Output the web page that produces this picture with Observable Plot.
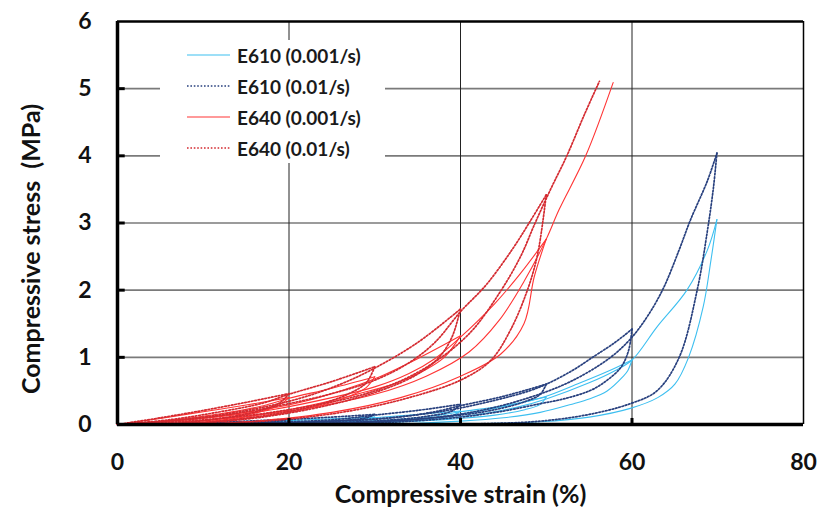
<!DOCTYPE html>
<html><head><meta charset="utf-8">
<script src="https://cdn.jsdelivr.net/npm/d3@7"></script>
<script src="https://cdn.jsdelivr.net/npm/@observablehq/plot@0.6"></script>
<style>
html,body{margin:0;padding:0;background:#fff;}
#wrap{position:relative;width:819px;height:514px;}
#chart svg text{font-family:Lato,"Open Sans",sans-serif;font-weight:700;font-size:23px;fill:#111;}
#chart svg text.title{font-size:25px;}
#legend{position:absolute;left:160px;top:40px;background:#fff;}
#legend text{font-family:Lato,"Open Sans",sans-serif;font-weight:700;font-size:19px;fill:#1a1a1a;}
</style></head><body>
<div id="wrap"><div id="chart"></div><svg id="legend" width="225" height="123"></svg></div>
<script>
// ---- data ----
const strainTicks = [0, 20, 40, 60, 80];
const stressTicks = [0, 1, 2, 3, 4, 5, 6];
const seriesNames = ["E610 (0.001/s)", "E610 (0.01/s)", "E640 (0.001/s)", "E640 (0.01/s)"];
const xTitle = "Compressive strain (%)";
const yTitle = "Compressive stress  (MPa)";

// each entry: one loading or unloading branch, [strain %, stress MPa]
const e610Slow = [
  [[0,0],[10,0.02],[15,0.035],[20,0.06]],
  [[20,0.06],[18,0.03],[13,0.01],[8,0]],
  [[0,0],[10,0.015],[16,0.03],[20,0.058],[25,0.085],[30,0.11]],
  [[30,0.11],[29,0.07],[25,0.035],[18,0.01],[12,0]],
  [[0,0],[12,0.01],[20,0.03],[26,0.06],[30,0.1],[35,0.15],[40,0.2]],
  [[40,0.2],[39,0.13],[36,0.08],[31,0.04],[24,0.01],[18,0]],
  [[0,0],[15,0.01],[25,0.03],[32,0.07],[37,0.13],[40,0.19],[45,0.28],[50,0.41]],
  [[50,0.41],[49.3,0.3],[47.5,0.22],[44,0.14],[40,0.09],[35,0.05],[28,0.02],[20,0]],
  [[0,0],[20,0.02],[30,0.05],[38,0.12],[44,0.24],[48,0.35],[50,0.42],[53.2,0.58],[57,0.78],[60,0.96]],
  [[60,0.96],[59.5,0.8],[59,0.72],[57.1,0.5],[55,0.38],[53.2,0.31],[49.3,0.18],[45,0.1],[40,0.05],[33,0.01],[28,0]],
  [[0,0],[25,0.02],[35,0.06],[42,0.15],[47,0.27],[50,0.38],[55,0.62],[58,0.8],[60,0.96],[62.9,1.45],[66.4,2.0],[68.8,2.6],[69.9,3.05]],
  [[69.9,3.05],[69.2,2.44],[68.3,1.75],[66.6,1.0],[65,0.6],[63,0.4],[59.8,0.24],[55,0.11],[49.3,0.04],[42,0.01],[35,0]]
];
const e610Fast = [
  [[0,0],[10,0.025],[15,0.05],[20,0.08]],
  [[20,0.08],[18,0.04],[13,0.015],[8,0]],
  [[0,0],[10,0.02],[16,0.045],[20,0.075],[25,0.11],[30,0.15]],
  [[30,0.15],[29,0.1],[25,0.05],[18,0.015],[12,0]],
  [[0,0],[12,0.015],[20,0.04],[26,0.08],[30,0.14],[35,0.21],[40,0.3]],
  [[40,0.3],[39,0.2],[36,0.12],[31,0.06],[24,0.02],[17,0]],
  [[0,0],[15,0.015],[25,0.05],[32,0.1],[37,0.19],[40,0.28],[45,0.42],[50,0.6]],
  [[50,0.6],[49.3,0.45],[47.5,0.34],[44,0.22],[40,0.14],[35,0.08],[28,0.03],[20,0]],
  [[0,0],[20,0.03],[30,0.08],[38,0.2],[44,0.36],[48,0.5],[50,0.6],[53,0.8],[55.4,1.0],[58,1.22],[60,1.42]],
  [[60,1.42],[59.6,1.1],[58.7,0.85],[57,0.65],[55.2,0.51],[52,0.38],[49.3,0.31],[45,0.2],[40,0.11],[33,0.04],[25,0]],
  [[0,0],[25,0.02],[35,0.08],[42,0.2],[48,0.4],[53,0.65],[57.5,1.0],[60,1.3],[62,1.65],[63.7,2.04],[65.5,2.6],[66.8,3.04],[68.8,3.63],[69.9,4.04]],
  [[69.9,4.04],[69.5,3.53],[68.8,2.89],[67.6,2.0],[65.5,1.0],[62.9,0.5],[59.8,0.31],[55,0.15],[49.3,0.05],[42,0.01],[35,0]]
];
const e640Slow = [
  [[0,0],[5,0.09],[10,0.19],[15,0.29],[20,0.40]],
  [[20,0.40],[19,0.3],[17,0.2],[13,0.1],[8,0.03],[4,0]],
  [[0,0],[6,0.06],[12,0.16],[17,0.28],[20,0.39],[25,0.54],[30,0.71]],
  [[30,0.71],[29,0.55],[27,0.42],[23,0.26],[17,0.12],[10,0.03],[5,0]],
  [[0,0],[8,0.07],[15,0.18],[21,0.32],[26,0.5],[30,0.68],[35,0.98],[40,1.32]],
  [[40,1.32],[38.1,1.0],[35.7,0.8],[32.6,0.62],[27,0.42],[20,0.22],[13,0.08],[7,0]],
  [[0,0],[10,0.09],[18,0.22],[25,0.4],[30,0.56],[34,0.76],[37,0.98],[40,1.3],[44,1.8],[47,2.25],[50,2.76]],
  [[50,2.76],[48.6,2.2],[47.4,1.5],[44.7,1.05],[40,0.72],[33,0.40],[25,0.18],[17,0.06],[9,0]],
  [[0,0],[10,0.06],[20,0.2],[30,0.45],[36,0.72],[41,1.08],[44.5,1.55],[47.5,2.15],[50,2.76],[51.5,3.2],[54.6,4.0],[57.8,5.09]]
];
const e640Fast = [
  [[0,0],[5,0.1],[10,0.21],[15,0.33],[20,0.46]],
  [[20,0.46],[19,0.33],[17,0.22],[13,0.11],[8,0.03],[4,0]],
  [[0,0],[6,0.07],[12,0.19],[17,0.32],[20,0.45],[25,0.64],[30,0.86]],
  [[30,0.86],[29,0.62],[27,0.46],[23,0.28],[17,0.13],[10,0.03],[5,0]],
  [[0,0],[8,0.08],[15,0.21],[21,0.38],[26,0.6],[30,0.84],[35,1.22],[40,1.72]],
  [[40,1.72],[39,1.3],[37.5,1.0],[35,0.75],[31,0.52],[25,0.3],[18,0.13],[10,0.02],[6,0]],
  [[0,0],[10,0.1],[18,0.26],[25,0.46],[30,0.66],[34,0.92],[37,1.22],[40,1.68],[43,2.08],[46,2.6],[48,3.0],[50,3.42]],
  [[50,3.42],[49,2.54],[47.8,2.0],[45.8,1.4],[43.5,0.95],[40,0.66],[34,0.4],[27,0.2],[19,0.07],[10,0]],
  [[0,0],[10,0.07],[20,0.22],[30,0.5],[36,0.85],[41,1.35],[44.5,1.95],[47,2.5],[48.7,3.0],[50.5,3.5],[52.4,4.0],[54.4,4.6],[56.2,5.11]]
];

// ---- styles ----
const styles = [
  {stroke: "#3dbff0", strokeWidth: 1.1, dash: null},
  {stroke: "#28407e", strokeWidth: 1.7, dash: "1.6,1.8"},
  {stroke: "#ff3434", strokeWidth: 1.1, dash: null},
  {stroke: "#d42a30", strokeWidth: 1.7, dash: "1.6,1.8"}
];
const allSeries = [e610Slow, e610Fast, e640Slow, e640Fast];

const lineMarks = allSeries.map((segs, si) => {
  const rows = [];
  segs.forEach((seg, i) => seg.forEach(([x, y]) => rows.push({x, y, seg: si + "-" + i})));
  const s = styles[si];
  return Plot.line(rows, {x: "x", y: "y", z: "seg", stroke: s.stroke, strokeWidth: s.strokeWidth,
    strokeDasharray: s.dash, curve: "catmull-rom"});
});

const inner = stressTicks.filter(v => v > 0 && v < 6);
const innerX = strainTicks.filter(v => v > 0 && v < 80);

const chart = Plot.plot({
  width: 819, height: 514,
  marginLeft: 117, marginRight: 16, marginTop: 21, marginBottom: 90,
  x: {domain: [0, 80], label: null},
  y: {domain: [0, 6], label: null},
  marks: [
    Plot.ruleY(inner, {stroke: "#7a7a7a", strokeWidth: 1.6}),
    Plot.ruleX(innerX, {stroke: "#222", strokeWidth: 1}),
    ...lineMarks,
    Plot.ruleY([6], {stroke: "#000", strokeWidth: 2.5}),
    Plot.ruleX([80], {stroke: "#000", strokeWidth: 1.5}),
    Plot.ruleX([0], {stroke: "#000", strokeWidth: 3.5}),
    Plot.ruleY([0], {stroke: "#000", strokeWidth: 3.5}),
    Plot.ruleY(inner, {x1: 0, x2: 0.9, stroke: "#000", strokeWidth: 3}),
    Plot.ruleX(innerX, {y1: 0, y2: 0.09, stroke: "#000", strokeWidth: 3}),
    Plot.axisY({ticks: stressTicks, tickSize: 0, tickPadding: 26, tickFormat: d => String(d), label: null}),
    Plot.axisX({ticks: strainTicks, tickSize: 0, tickPadding: 29, tickFormat: d => String(d), label: null}),
    Plot.text([yTitle], {frameAnchor: "left", textAnchor: "middle", rotate: -90, dx: -86, dy: 26, text: d => d}),
    Plot.text([xTitle], {frameAnchor: "bottom", dy: 78, text: d => d})
  ]
});
d3.select(chart).selectAll("text")
  .filter(function() { return this.textContent === xTitle || this.textContent === yTitle; })
  .classed("title", true);
document.getElementById("chart").appendChild(chart);

// ---- legend (inside plot, white box) ----
const leg = d3.select("#legend");
seriesNames.forEach((name, i) => {
  const cy = 15 + i * 31;
  const s = styles[i];
  leg.append("line").attr("x1", 27).attr("x2", 70).attr("y1", cy).attr("y2", cy)
    .attr("stroke", s.stroke).attr("stroke-width", s.strokeWidth)
    .attr("stroke-dasharray", s.dash);
  leg.append("text").attr("x", 77).attr("y", cy).attr("dominant-baseline", "central").text(name);
});
</script>
</body></html>
